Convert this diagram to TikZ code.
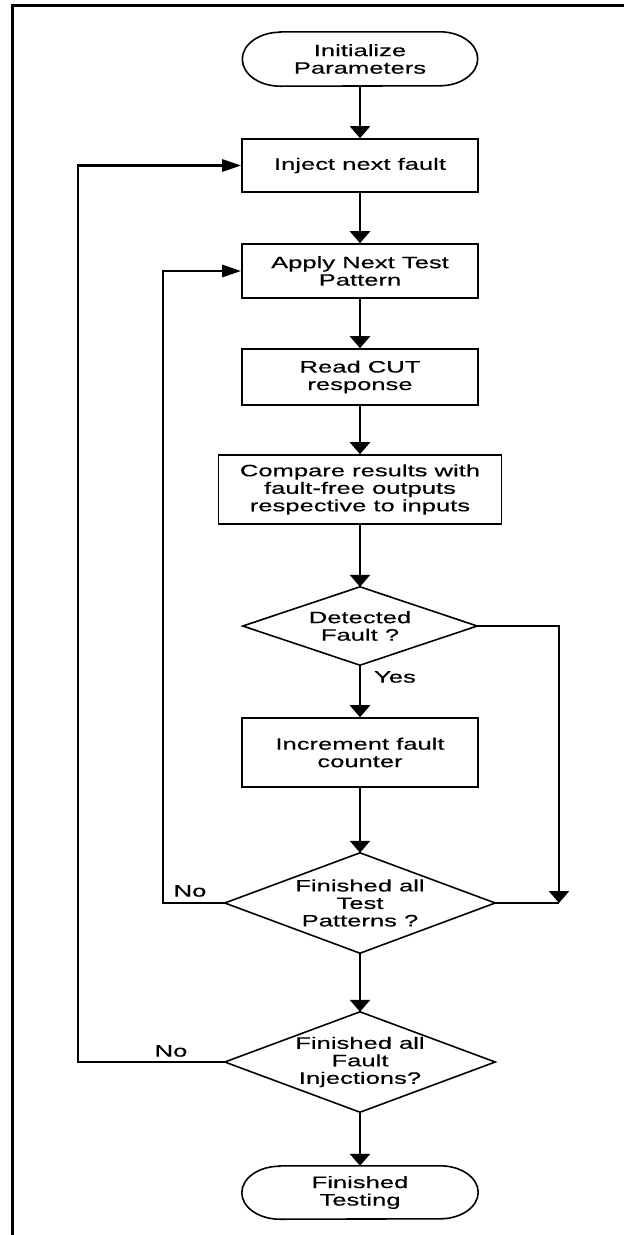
\documentclass[tikz,border=0pt]{standalone}
\usepackage{fontspec}
\setmainfont{Liberation Sans}[FakeStretch=1.55,FakeBold=0.4]
\usetikzlibrary{arrows.meta}
% outline of a terminal (stadium with elliptical ends) around node #1
\newcommand{\stadiumoutline}[2]{%
  \draw[shapeline] ([xshift=38pt]#1.north west) -- ([xshift=-38pt]#1.north east)
    arc[start angle=90,end angle=-90,x radius=38pt,y radius=#2]
    -- ([xshift=38pt]#1.south west)
    arc[start angle=270,end angle=90,x radius=38pt,y radius=#2] -- cycle;}
% outline of a decision diamond spanning node #1
\newcommand{\diamondoutline}[1]{%
  \draw[shapeline] (#1.north) -- (#1.east) -- (#1.south) -- (#1.west) -- cycle;}
\begin{document}
\begin{tikzpicture}[x=1pt,y=-1pt,
  every node/.style={font=\fontsize{16.5}{17.5}\selectfont, align=center, inner sep=0pt},
  shapeline/.style={line width=1.6pt},
  stepbox/.style={draw, line width=1.6pt, minimum width=236pt, minimum height=#1},
  stepbox/.default=54pt,
  slot/.style 2 args={minimum width=#1, minimum height=#2},
  conn/.style={line width=2.8pt},
  vflow/.style={conn, -{Triangle[length=12pt,width=20pt]}},
  hflow/.style={conn, -{Triangle[length=19pt,width=12pt]}}]
\useasboundingbox (0,0) rectangle (624,1235);

% outer frame
\draw[line width=2.2pt] (624,5.5) -- (12.5,5.5) -- (12.5,1235);

% process steps
\node[slot={235pt}{54pt}] (start) at (360,59) {Initialize\\Parameters};
\stadiumoutline{start}{27pt}
\node[stepbox=53pt] (inject) at (360,165.5) {Inject next fault};
\node[stepbox=54pt] (apply) at (360,271) {Apply Next Test\\Pattern};
\node[stepbox=56pt] (read) at (360,377) {Read CUT\\response};
\node[stepbox=69pt, minimum width=283pt] (compare) at (360,489.5)
  {Compare results with\\fault-free outputs\\respective to inputs};
\node[slot={234pt}{78pt}] (detect) at (360,626) {Detected\\Fault ?};
\diamondoutline{detect}
\node[stepbox=69pt] (incr) at (360,752.5) {Increment fault\\counter};
\node[slot={270pt}{100pt}] (allpat) at (360,903) {Finished all\\Test\\Patterns ?};
\diamondoutline{allpat}
\node[slot={270pt}{100pt}] (allfault) at (360,1062) {Finished all\\Fault\\Injections?};
\diamondoutline{allfault}
\node[slot={236pt}{53pt}] (finish) at (360,1192.5) {Finished\\Testing};
\stadiumoutline{finish}{26.5pt}

% branch labels
\node (yes) at (395,677) {Yes};
\node (nopat) at (190,891) {No};
\node (nofault) at (171,1051) {No};

% loop rails
\coordinate (innerx) at (163,0);
\coordinate (outerx) at (78,0);
\coordinate (rjoin) at (559,903);

% main flow
\draw[vflow] (start.south) -- (inject.north);
\draw[vflow] (inject.south) -- (apply.north);
\draw[vflow] (apply.south) -- (read.north);
\draw[vflow] (read.south) -- (compare.north);
\draw[vflow] (compare.south) -- (detect.north);
\draw[vflow] (detect.south) -- (incr.north);
\draw[vflow] (incr.south) -- (allpat.north);
\draw[vflow] (allpat.south) -- (allfault.north);
\draw[vflow] (allfault.south) -- (finish.north);

% no fault detected: bypass the counter
\draw[vflow] (detect.east) -| (rjoin);
\draw[conn] (allpat.east) -- (rjoin);

% loops back
\draw[hflow] (allpat.west) -- (allpat.west -| innerx) |- (apply.west);
\draw[hflow] (allfault.west) -- (allfault.west -| outerx) |- (inject.west);
\end{tikzpicture}
\end{document}
